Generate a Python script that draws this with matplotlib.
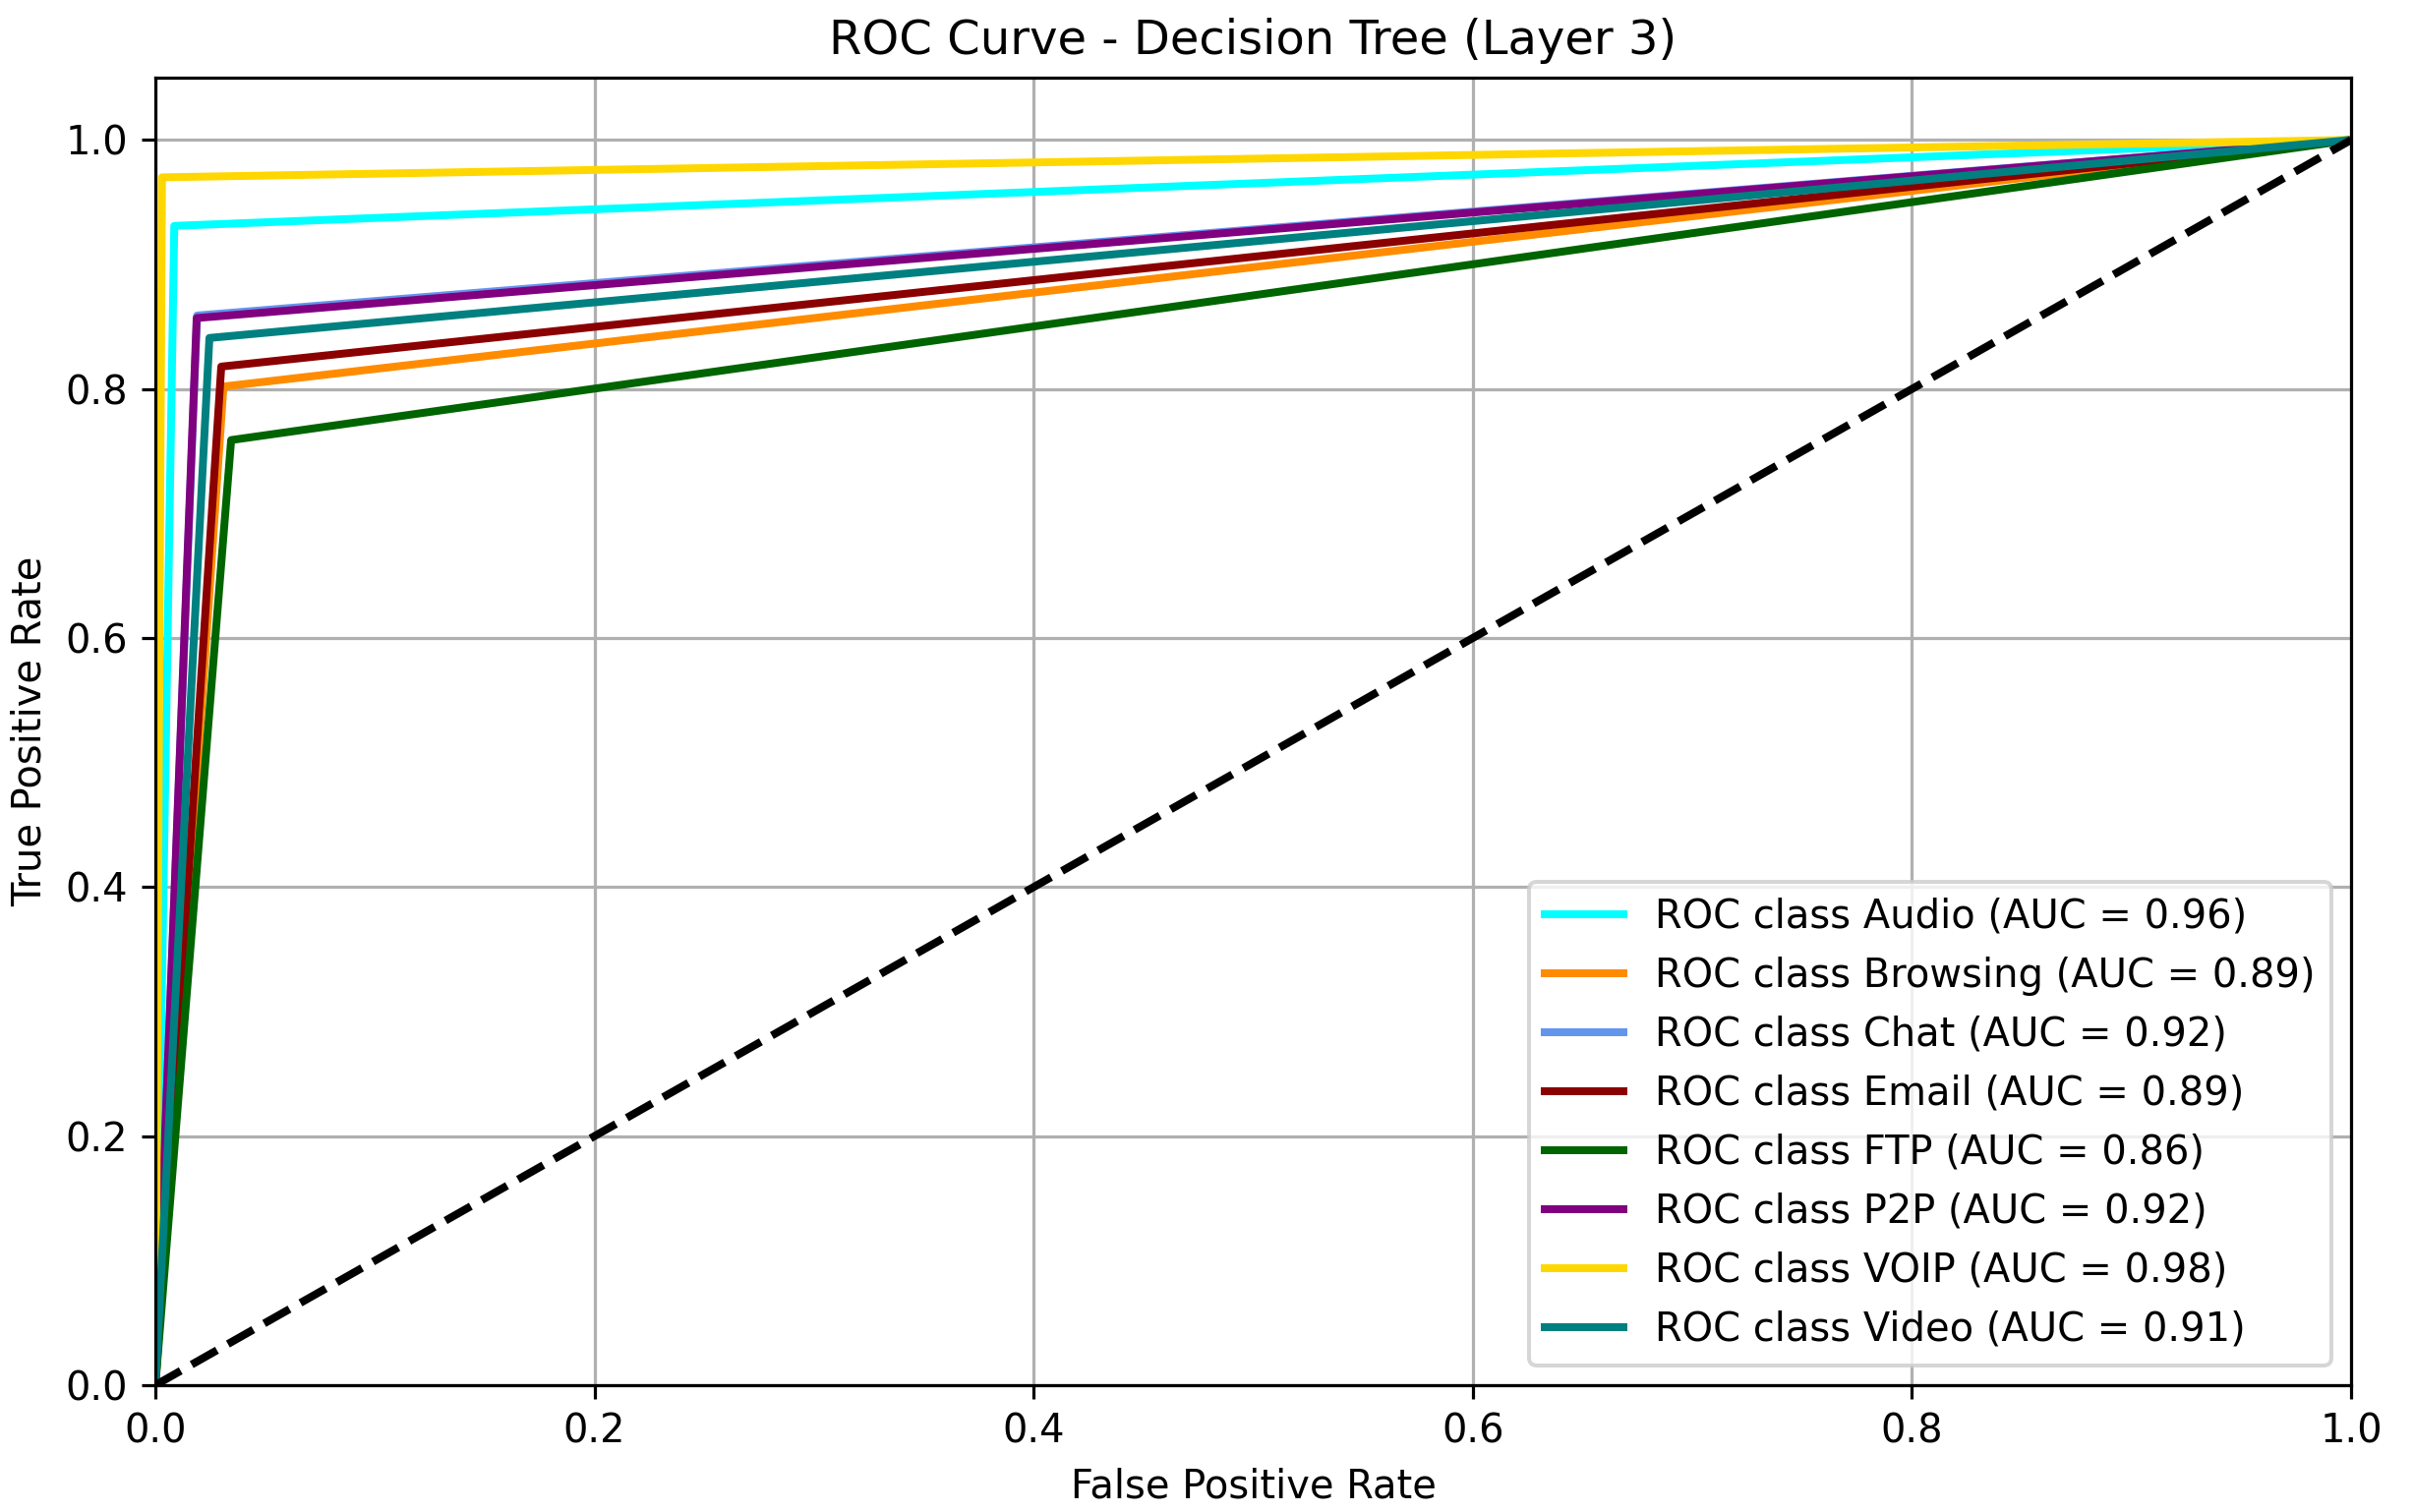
import numpy as np
import matplotlib
matplotlib.use('Agg')
import matplotlib.pyplot as plt

# Per-class ROC points (decision tree -> one operating point per class)
classes = ['Audio', 'Browsing', 'Chat', 'Email', 'FTP', 'P2P', 'VOIP', 'Video']
knee_fpr = [0.0086, 0.031, 0.019, 0.030, 0.0345, 0.0188, 0.003, 0.0246]
knee_tpr = [0.931, 0.802, 0.859, 0.818, 0.759, 0.857, 0.970, 0.841]
auc_vals = [0.96, 0.89, 0.92, 0.89, 0.86, 0.92, 0.98, 0.91]
colors = ['aqua', 'darkorange', 'cornflowerblue', 'darkred',
          'darkgreen', 'purple', 'gold', 'teal']

DPI = 288
fig = plt.figure(figsize=(2454 / DPI, 1538 / DPI), dpi=DPI)
ax = fig.add_axes([0.0644, 0.0839, 0.9099, 0.8647])

for i, name in enumerate(classes):
    fpr = [0.0, knee_fpr[i], 1.0]
    tpr = [0.0, knee_tpr[i], 1.0]
    ax.plot(fpr, tpr, color=colors[i], lw=2,
            label=f"ROC class {name} (AUC = {auc_vals[i]:.2f})")

ax.plot([0, 1], [0, 1], 'k--', lw=2)
ax.set_xlim(0.0, 1.0)
ax.set_ylim(0.0, 1.05)
ax.set_xlabel("False Positive Rate")
ax.set_ylabel("True Positive Rate")
ax.set_title("ROC Curve - Decision Tree (Layer 3)")
ax.legend(loc="lower right")
ax.grid(True)

fig.savefig("out.png", dpi=DPI)
